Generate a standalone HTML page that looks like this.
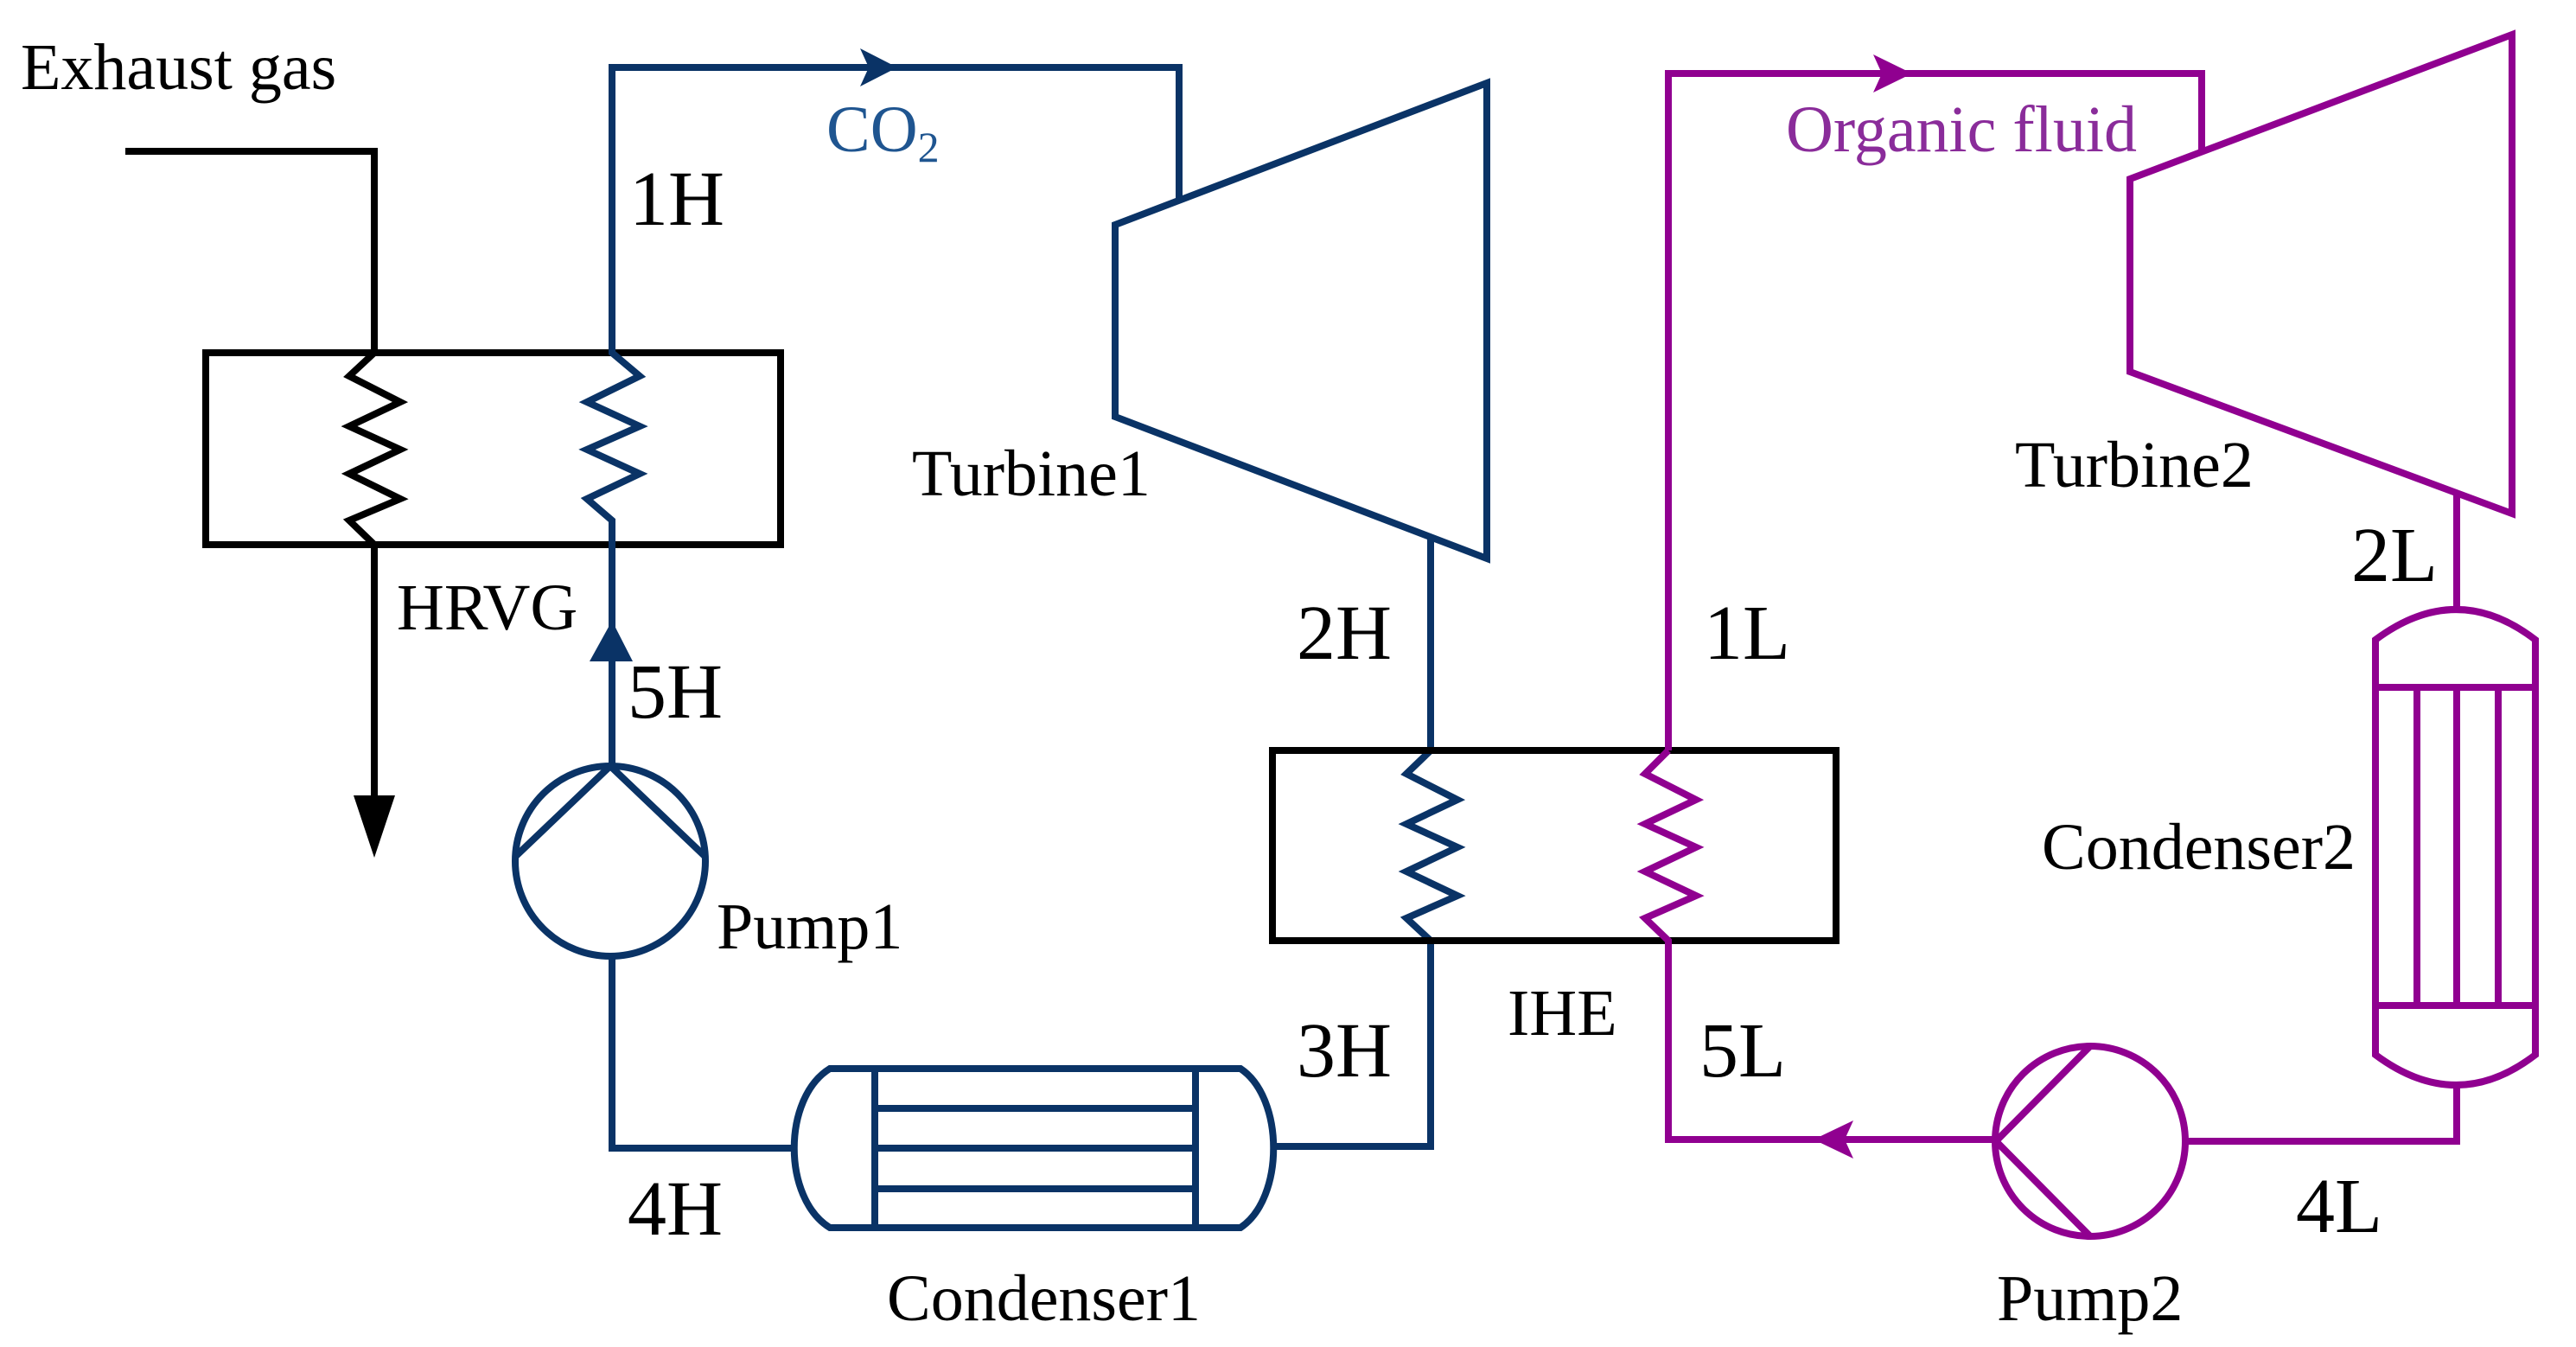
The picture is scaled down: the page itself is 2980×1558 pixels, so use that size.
<!DOCTYPE html>
<html><head><meta charset="utf-8"><style>
html,body{margin:0;padding:0;background:#fff}
svg{display:block}
text{font-family:"Liberation Serif","Times New Roman",serif;fill:#000}
.n{font-size:76px}
.s{font-size:90px}
</style></head><body>
<svg width="2980" height="1558" viewBox="0 0 2980 1558" xmlns="http://www.w3.org/2000/svg">
<g fill="none" stroke-linejoin="miter" stroke-width="8">
<polyline stroke="#000" points="145,175 433,175 433,408"/>
<rect x="238" y="408" width="665" height="222" stroke="#000"/>
<polyline stroke="#000" points="433,408 404,435 463,465 404,493 463,520 404,548 463,577 404,602 433,630 433,920"/>
<polyline stroke="#0a3366" points="708,630 708,602 679,577 740,548 679,520 740,493 679,465 740,435 708,408 708,78 1364,78 1364,232"/>
<polygon stroke="#0a3366" points="1290,260 1720,96 1720,646 1290,482"/>
<polyline stroke="#0a3366" points="1655,620 1655,868 1627,895 1686,925 1627,953 1686,980 1627,1008 1686,1036 1627,1062 1655,1088 1655,1326 1470,1326"/>
<line stroke="#0a3366" x1="708" y1="630" x2="708" y2="885"/>
<circle stroke="#0a3366" cx="706" cy="996" r="110"/>
<polyline stroke="#0a3366" points="597,990 706,886 815,990"/>
<polyline stroke="#0a3366" points="708,1107 708,1328 920,1328"/>
<path stroke="#0a3366" d="M960,1236 L1435,1236 C1486,1270 1486,1386 1435,1420 L960,1420 C905,1386 905,1270 960,1236 Z"/>
<line stroke="#0a3366" x1="1012" y1="1236" x2="1012" y2="1420"/>
<line stroke="#0a3366" x1="1383" y1="1236" x2="1383" y2="1420"/>
<line stroke="#0a3366" x1="1012" y1="1282" x2="1383" y2="1282"/>
<line stroke="#0a3366" x1="1012" y1="1328" x2="1383" y2="1328"/>
<line stroke="#0a3366" x1="1012" y1="1375" x2="1383" y2="1375"/>
<rect x="1472" y="868" width="652" height="220" stroke="#000"/>
<polyline stroke="#900090" points="1930,868 1930,85 2547,85 2547,175"/>
<polyline stroke="#900090" points="1930,868 1903,895 1962,925 1903,953 1962,980 1903,1008 1962,1036 1903,1062 1930,1088 1930,1318 2308,1318"/>
<polygon stroke="#900090" points="2464,207 2906,40 2906,594 2464,430"/>
<line stroke="#900090" x1="2842" y1="570" x2="2842" y2="705"/>
<path stroke="#900090" d="M2748,740 Q2842,670 2933,740 L2933,1220 Q2842,1290 2748,1220 Z"/>
<line stroke="#900090" x1="2748" y1="795" x2="2933" y2="795"/>
<line stroke="#900090" x1="2748" y1="1163" x2="2933" y2="1163"/>
<line stroke="#900090" x1="2796" y1="795" x2="2796" y2="1163"/>
<line stroke="#900090" x1="2842" y1="795" x2="2842" y2="1163"/>
<line stroke="#900090" x1="2890" y1="795" x2="2890" y2="1163"/>
<polyline stroke="#900090" points="2842,1255 2842,1320 2528,1320"/>
<circle stroke="#900090" cx="2418" cy="1320" r="110"/>
<polyline stroke="#900090" points="2418,1210 2309,1320 2418,1430"/>
</g>
<polygon fill="#000" points="409,920 457,920 433,992"/>
<polygon fill="#0a3366" points="682,765 732,765 708,718"/>
<polygon fill="#0a3366" points="995,56 1038,78 995,100 1005,78"/>
<polygon fill="#900090" points="2167,63 2212,85 2167,107 2177,85"/>
<polygon fill="#900090" points="2144,1296 2098,1318 2144,1340 2134,1318"/>
<text class="n" x="24" y="103">Exhaust gas</text>
<text class="n" x="956" y="175" style="fill:#1f5590">CO<tspan font-size="50" dy="12">2</tspan></text>
<text class="n" x="2066" y="175" style="fill:#8a2c9a">Organic fluid</text>
<text class="s" x="728" y="260">1H</text>
<text class="n" x="459" y="728">HRVG</text>
<text class="s" x="726" y="830">5H</text>
<text class="n" x="829" y="1097">Pump1</text>
<text class="s" x="726" y="1428">4H</text>
<text class="n" x="1026" y="1527">Condenser1</text>
<text class="n" x="1055" y="573">Turbine1</text>
<text class="s" x="1500" y="762">2H</text>
<text class="s" x="1500" y="1245">3H</text>
<text class="n" x="1744" y="1197">IHE</text>
<text class="s" x="1971" y="762">1L</text>
<text class="s" x="1966" y="1245">5L</text>
<text class="n" x="2331" y="563">Turbine2</text>
<text class="s" x="2720" y="672">2L</text>
<text class="n" x="2362" y="1005">Condenser2</text>
<text class="s" x="2656" y="1425">4L</text>
<text class="n" x="2310" y="1527">Pump2</text>
</svg>
</body></html>
